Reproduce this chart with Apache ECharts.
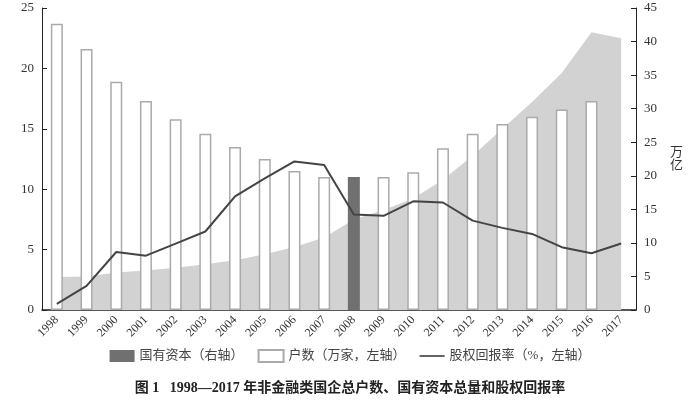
<!DOCTYPE html><html><head><meta charset="utf-8"><script src="https://cdn.jsdelivr.net/npm/echarts@6/dist/echarts.min.js"></script></head><body style="margin:0;background:#fff"><div id="c" style="width:700px;height:416px"></div><script>
const years=['1998','1999','2000','2001','2002','2003','2004','2005','2006','2007','2008','2009','2010','2011','2012','2013','2014','2015','2016','2017'];
const households=[23.7,21.6,18.9,17.3,15.8,14.6,13.5,12.5,11.5,11.0,null,11.0,11.4,13.4,14.6,15.4,16.0,16.6,17.3,null];
const capitalArea=[4.9,5.0,5.6,5.9,6.3,6.8,7.4,8.3,9.4,10.8,13.5,14.9,16.6,19.4,23.0,27.0,31.0,35.3,41.4,40.5];
const capitalBar=[null,null,null,null,null,null,null,null,null,null,19.8,null,null,null,null,null,null,null,null,null];
const roe=[0.5,2.0,4.8,4.5,5.5,6.5,9.4,10.9,12.3,12.0,7.9,7.8,9.0,8.9,7.4,6.8,6.3,5.2,4.7,5.5];
const f='"Liberation Serif","Noto Sans CJK SC",serif';
const ch=echarts.init(document.getElementById('c'));
ch.setOption({animation:false,textStyle:{fontFamily:f,color:'#333'},
grid:{left:42,right:64,top:8,bottom:106},
title:{text:'图 1   1998—2017 年非金融类国企总户数、国有资本总量和股权回报率',left:'center',top:376,textStyle:{fontSize:14,fontWeight:'bold',fontFamily:f,color:'#222'}},
legend:{bottom:48,left:'center',itemGap:14,itemHeight:12,textStyle:{fontSize:13,color:'#444'},data:[{name:'国有资本（右轴）',icon:'rect',itemStyle:{color:'#707070'}},{name:'户数（万家，左轴）',icon:'rect'},{name:'股权回报率（%，左轴）',icon:'path://M0,0L30,0L30,2L0,2Z',itemStyle:{color:'#444'}}]},
xAxis:{type:'category',data:years,axisLine:{lineStyle:{color:'#222',width:1.5}},axisTick:{alignWithLabel:true,inside:true,lineStyle:{color:'#222'}},axisLabel:{rotate:45,fontSize:12,color:'#333',interval:0}},
yAxis:[{type:'value',min:0,max:25,interval:5,axisLine:{show:true,lineStyle:{color:'#222'}},axisTick:{show:true,inside:true},splitLine:{show:false},axisLabel:{fontSize:13,color:'#333'}},
{type:'value',min:0,max:45,interval:5,name:'万\n亿',nameLocation:'middle',nameGap:34,nameRotate:0,nameTextStyle:{fontSize:13,color:'#333'},axisLine:{show:true,lineStyle:{color:'#222'}},axisTick:{show:true,inside:true},splitLine:{show:false},axisLabel:{fontSize:13,color:'#333'}}],
series:[
{name:'capArea',type:'line',yAxisIndex:1,data:capitalArea,symbol:'none',lineStyle:{width:0},areaStyle:{color:'#d2d2d2',opacity:1},z:1},
{name:'户数（万家，左轴）',type:'bar',data:households,barWidth:12,barGap:'-100%',itemStyle:{color:'#fff',borderColor:'#aaa',borderWidth:1.5},z:2},
{name:'国有资本（右轴）',type:'bar',yAxisIndex:1,data:capitalBar,barWidth:12,barGap:'-100%',itemStyle:{color:'#707070'},z:3},
{name:'股权回报率（%，左轴）',type:'line',data:roe,symbol:'none',lineStyle:{color:'#444',width:2},itemStyle:{color:'#444'},z:4}
]});
</script></body></html>
